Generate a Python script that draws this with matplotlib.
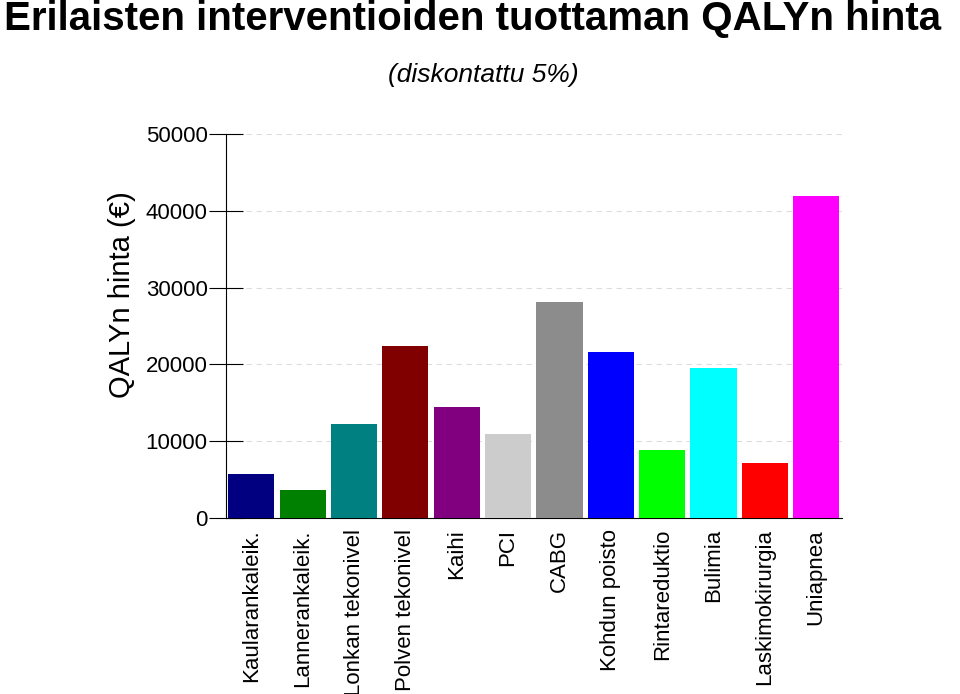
import matplotlib
matplotlib.use("Agg")
import matplotlib.pyplot as plt

categories = ["Kaularankaleik.", "Lannerankaleik.", "Lonkan tekonivel", "Polven tekonivel",
              "Kaihi", "PCI", "CABG", "Kohdun poisto", "Rintareduktio", "Bulimia",
              "Laskimokirurgia", "Uniapnea"]
values = [5750, 3650, 12250, 22400, 14450, 10950, 28100, 21600, 8850, 19550, 7150, 41950]
colors = ["#000080", "#008000", "#008080", "#800000", "#800080", "#cccccc", "#8c8c8c",
          "#0000ff", "#00ff00", "#00ffff", "#ff0000", "#ff00ff"]
yticks = [0, 10000, 20000, 30000, 40000, 50000]

plt.rcParams["font.family"] = "Liberation Sans"
fig = plt.figure(figsize=(9.6, 6.94), dpi=100)
ax = fig.add_axes([0.235, 0.2536, 0.642, 0.5534])
x = range(len(categories))
ax.bar(x, values, width=0.9, color=colors, zorder=3)
ax.set_xlim(-0.5, len(categories) - 0.5)
ax.set_ylim(0, 50000)
ax.set_yticks(yticks)
ax.set_yticklabels([str(v) for v in yticks], fontsize=16)
for v in yticks[1:]:
    ax.axhline(v, color="#dddddd", lw=0.8, ls=(0, (5, 4)), zorder=1)
ax.tick_params(axis="y", direction="inout", length=24, width=0.8, pad=1)
ax.set_xticks(list(x))
ax.set_xticklabels(categories, rotation=90, fontsize=16, va="top")
ax.tick_params(axis="x", length=0, pad=8)
for s in ["top", "right"]:
    ax.spines[s].set_visible(False)
fig.text(0.127, 0.575, "QALYn hinta (€)", fontsize=21, rotation=90,
         ha="center", va="center")
fig.text(0.004, 0.972, "Erilaisten interventioiden tuottaman QALYn hinta",
         fontsize=29, fontweight="bold", ha="left", va="center")
fig.text(0.503, 0.892, "(diskontattu 5%)", fontsize=19, style="italic",
         ha="center", va="center")
fig.savefig("out.png", dpi=100)
